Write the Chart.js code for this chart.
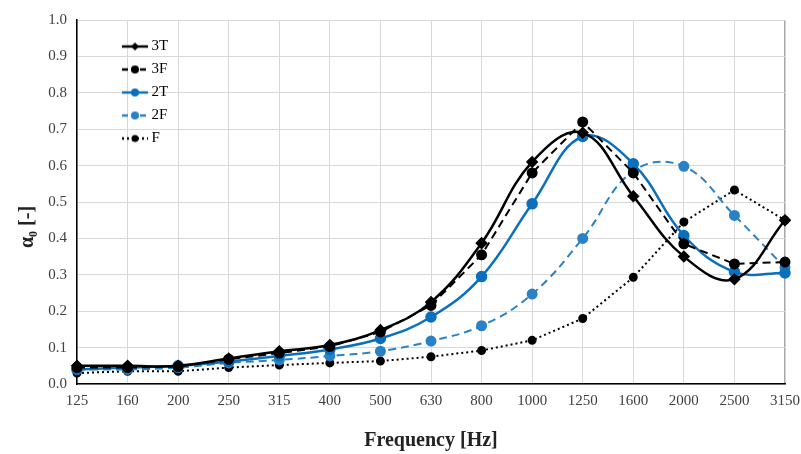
<!DOCTYPE html>
<html>
<head>
<meta charset="utf-8">
<script src="https://cdn.jsdelivr.net/npm/chart.js@4.4.1/dist/chart.umd.min.js"></script>
<style>
  html, body { margin: 0; padding: 0; background: #fff; }
  #wrap { width: 801px; height: 454px; }
</style>
</head>
<body>
<div id="wrap"><canvas id="chart" width="801" height="454"></canvas></div>
<script>
// frequencies (category axis)
const freqs = ['125', '160', '200', '250', '315', '400', '500', '630', '800', '1000', '1250', '1600', '2000', '2500', '3150'];

// absorption coefficient per sample
const s3T = [0.05, 0.05, 0.05, 0.07, 0.09, 0.107, 0.148, 0.225, 0.387, 0.61, 0.69, 0.516, 0.35, 0.288, 0.45];
const s3F = [0.045, 0.045, 0.048, 0.068, 0.085, 0.103, 0.143, 0.216, 0.355, 0.58, 0.72, 0.58, 0.385, 0.33, 0.335];
const s2T = [0.04, 0.045, 0.05, 0.062, 0.077, 0.095, 0.125, 0.184, 0.295, 0.495, 0.68, 0.605, 0.408, 0.308, 0.305];
const s2F = [0.04, 0.04, 0.045, 0.058, 0.066, 0.077, 0.09, 0.118, 0.16, 0.247, 0.40, 0.585, 0.598, 0.463, 0.32];
const sF  = [0.03, 0.035, 0.035, 0.045, 0.052, 0.058, 0.063, 0.075, 0.092, 0.12, 0.18, 0.293, 0.445, 0.533, 0.45];

const black = '#000000';
const blue = '#0a70bd';
const blue2 = '#2a82c6';

// small legend sample: line + marker
function legendIcon(color, dash, diamond, r) {
  const c = document.createElement('canvas');
  c.width = 28; c.height = 12;
  const g = c.getContext('2d');
  g.strokeStyle = color;
  g.lineWidth = 2.5;
  g.setLineDash(dash);
  g.beginPath(); g.moveTo(1, 6); g.lineTo(27, 6); g.stroke();
  g.fillStyle = color;
  g.beginPath();
  if (diamond) {
    g.moveTo(14, 6 - r); g.lineTo(14 + r, 6); g.lineTo(14, 6 + r); g.lineTo(14 - r, 6);
  } else {
    g.arc(14, 6, r, 0, Math.PI * 2);
  }
  g.fill();
  return c;
}

const data = {
  labels: freqs,
  datasets: [{
    label: '3T', data: s3T,
    borderColor: black, backgroundColor: black, borderWidth: 2.5,
    pointStyle: 'rectRot', pointRadius: 4.5, tension: 0.4,
    icon: legendIcon(black, [], true, 4)
  }, {
    label: '3F', data: s3F,
    borderColor: black, backgroundColor: black, borderWidth: 2,
    borderDash: [8, 5], pointRadius: 4.5, tension: 0,
    icon: legendIcon(black, [6, 3], false, 4)
  }, {
    label: '2T', data: s2T,
    borderColor: blue, backgroundColor: blue, borderWidth: 2.5,
    pointRadius: 4.5, tension: 0.4,
    icon: legendIcon(blue, [], false, 4)
  }, {
    label: '2F', data: s2F,
    borderColor: blue2, backgroundColor: blue2, borderWidth: 2,
    borderDash: [8, 5], pointRadius: 4.5, tension: 0.4,
    icon: legendIcon(blue2, [6, 3], false, 4)
  }, {
    label: 'F', data: sF,
    borderColor: black, backgroundColor: black, borderWidth: 2,
    borderDash: [2, 3], pointRadius: 3.5, tension: 0,
    icon: legendIcon(black, [2, 3], false, 3.5)
  }]
};

// move the in-plot legend to the upper left like the original
const legendShift = {
  id: 'legendShift',
  afterLayout(chart) {
    chart.legend.left += 41;
    chart.legend.top += 31;
  }
};

const config = {
  type: 'line',
  data: data,
  options: {
    responsive: false,
    animation: false,
    layout: { padding: { left: 0, right: 16, top: 20, bottom: 0 } },
    plugins: {
      tooltip: { enabled: false },
      legend: {
        position: 'chartArea',
        align: 'start',
        labels: {
          usePointStyle: true,
          pointStyleWidth: 18,
          padding: 8,
          color: '#000',
          font: { family: 'Liberation Serif', size: 15 },
          generateLabels(chart) {
            return chart.data.datasets.map((ds, i) => ({
              text: ds.label,
              pointStyle: ds.icon,
              fillStyle: ds.borderColor,
              strokeStyle: ds.borderColor,
              lineWidth: 0,
              hidden: false,
              datasetIndex: i,
              fontColor: '#000'
            }));
          }
        }
      }
    },
    scales: {
      x: {
        grid: {
          color: ctx => ctx.index === freqs.length - 1 ? '#a6a6a6' : '#d9d9d9',
          lineWidth: ctx => ctx.index === freqs.length - 1 ? 1.5 : 1,
          drawTicks: false
        },
        border: { color: '#000', width: 1.5 },
        ticks: {
          color: '#404040', padding: 8, maxRotation: 0, autoSkip: false,
          font: { family: 'Liberation Serif', size: 15 }
        },
        title: {
          display: true, text: 'Frequency [Hz]', color: '#222',
          font: { family: 'Liberation Serif', size: 20, weight: 'bold' },
          padding: { top: 0, bottom: 1 }
        },
        afterFit(scale) {
          scale.height = 70;
          scale.paddingLeft = 0;
          scale.paddingRight = 0;
        }
      },
      y: {
        min: 0, max: 1,
        grid: { color: '#d9d9d9', drawTicks: false },
        border: { color: '#000', width: 1.5 },
        ticks: {
          stepSize: 0.1, color: '#404040', padding: 10,
          font: { family: 'Liberation Serif', size: 15 },
          callback: v => v.toFixed(1)
        },
        title: {
          display: true, text: 'α₀ [-]          ', color: '#222',
          font: { family: 'Liberation Serif', size: 20, weight: 'bold' },
          padding: { top: 16, bottom: 0 }
        },
        afterFit(scale) { scale.width = 77; }
      }
    }
  },
  plugins: [legendShift]
};

window.onload = function() {
  const ctx = document.getElementById('chart').getContext('2d');
  window.myChart = new Chart(ctx, config);
};
</script>
</body>
</html>
